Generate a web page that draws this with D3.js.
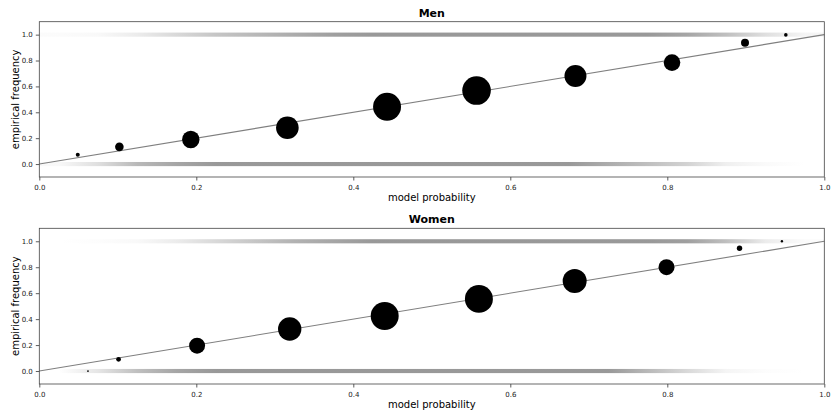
<!DOCTYPE html>
<html>
<head>
<meta charset="utf-8">
<script src="https://cdn.jsdelivr.net/npm/d3@7"></script>
<style>
  body { margin: 0; background: #fff; }
  text { font-family: "DejaVu Sans", sans-serif; }
</style>
</head>
<body>
<svg id="chart" width="831" height="412"></svg>
<script>
// binned calibration points (mean model probability, empirical frequency, n)
const menProb = [0.049, 0.102, 0.193, 0.316, 0.443, 0.557, 0.683, 0.806, 0.899, 0.951];
const menFreq = [0.072, 0.133, 0.190, 0.280, 0.442, 0.568, 0.681, 0.784, 0.938, 0.998];
const menCount = [40, 185, 760, 1280, 1960, 2050, 1210, 690, 160, 32];

const womenProb = [0.062, 0.101, 0.201, 0.319, 0.440, 0.560, 0.682, 0.799, 0.892, 0.946];
const womenFreq = [0.000, 0.090, 0.195, 0.324, 0.424, 0.556, 0.694, 0.800, 0.946, 1.000];
const womenCount = [8, 58, 640, 1370, 1960, 1960, 1440, 640, 73, 14];

// density of raw outcomes along x (bins of 0.05), at y = 1 and y = 0
const binStarts = d3.range(0, 1, 0.05);
const menPos = [0.03, 0.05, 0.15, 0.3, 0.45, 0.55, 0.65, 0.75, 0.8, 0.8, 0.8, 0.8, 0.8, 0.8, 0.8, 0.8, 0.7, 0.5, 0.25, 0.08];
const menNeg = [0.05, 0.25, 0.55, 0.7, 0.8, 0.8, 0.8, 0.8, 0.8, 0.8, 0.8, 0.8, 0.8, 0.8, 0.65, 0.5, 0.35, 0.12, 0.04, 0];
const womenPos = [0, 0.02, 0.05, 0.15, 0.3, 0.45, 0.6, 0.7, 0.8, 0.8, 0.8, 0.8, 0.8, 0.8, 0.8, 0.8, 0.75, 0.5, 0.15, 0.03];
const womenNeg = [0, 0.2, 0.5, 0.7, 0.8, 0.8, 0.8, 0.8, 0.8, 0.8, 0.8, 0.8, 0.8, 0.8, 0.8, 0.55, 0.3, 0.08, 0.02, 0];

const xTicks = [0, 0.2, 0.4, 0.6, 0.8, 1.0];
const yTicks = [0, 0.2, 0.4, 0.6, 0.8, 1.0];

const svg = d3.select('#chart');
const defs = svg.append('defs');
const left = 39.3, right = 824.3;
const x = d3.scaleLinear().domain([0, 1]).range([left, right]);
const r = d3.scaleSqrt().domain([0, 2050]).range([0, 14.3]);

function panel(id, title, top, bottom, prob, freq, count, pos, neg) {
  const y = d3.scaleLinear().domain([-0.1, 1.1]).range([bottom, top]);
  const g = svg.append('g');

  // jittered raw outcomes, drawn as density bands
  const bands = [{v: 1, d: pos, k: 'pos'}, {v: 0, d: neg, k: 'neg'}];
  bands.forEach(b => {
    const gid = `${id}-${b.k}`;
    const grad = defs.append('linearGradient')
      .attr('id', gid)
      .attr('gradientUnits', 'userSpaceOnUse')
      .attr('x1', x(0)).attr('x2', x(1)).attr('y1', 0).attr('y2', 0);
    grad.selectAll('stop')
      .data(binStarts.map((s, i) => ({s: s + 0.025, d: b.d[i]})))
      .enter()
      .append('stop')
      .attr('offset', d => d.s)
      .attr('stop-color', '#7f7f7f')
      .attr('stop-opacity', d => d.d);
    g.append('rect')
      .attr('x', x(0))
      .attr('width', x(1) - x(0))
      .attr('y', y(b.v + 0.016))
      .attr('height', y(b.v - 0.016) - y(b.v + 0.016))
      .attr('fill', `url(#${gid})`);
  });

  // perfect calibration line
  g.append('line')
    .attr('x1', x(0)).attr('y1', y(0))
    .attr('x2', x(1)).attr('y2', y(1))
    .attr('stroke', '#7f7f7f')
    .attr('stroke-width', 1.1);

  g.selectAll('circle')
    .data(prob.map((p, i) => ({p, f: freq[i], n: count[i]})))
    .enter()
    .append('circle')
    .attr('cx', d => x(d.p))
    .attr('cy', d => y(d.f))
    .attr('r', d => r(d.n))
    .attr('fill', '#000');

  // axes
  const xAxis = d3.axisBottom(x).tickValues(xTicks).tickFormat(d3.format('.1f')).tickSize(3.5);
  const yAxis = d3.axisLeft(y).tickValues(yTicks).tickFormat(d3.format('.1f')).tickSize(3.5);
  const gx = g.append('g').attr('transform', `translate(0,${bottom})`).call(xAxis);
  const gy = g.append('g').attr('transform', `translate(${left},0)`).call(yAxis);
  [gx, gy].forEach(a => {
    a.select('.domain').remove();
    a.selectAll('line').attr('stroke', '#333').attr('stroke-width', 0.8);
    a.selectAll('text').attr('font-size', 7).attr('fill', '#222')
      .attr('font-family', '"DejaVu Sans", sans-serif');
  });
  gx.selectAll('text').attr('dy', '0.9em');

  g.append('rect')
    .attr('x', left).attr('y', top)
    .attr('width', right - left).attr('height', bottom - top)
    .attr('fill', 'none').attr('stroke', '#444').attr('stroke-width', 0.8);

  g.append('text')
    .attr('x', (left + right) / 2).attr('y', top - 5)
    .attr('text-anchor', 'middle')
    .attr('font-size', 11).attr('font-weight', 'bold')
    .text(title);

  g.append('text')
    .attr('x', (left + right) / 2).attr('y', bottom + 24)
    .attr('text-anchor', 'middle')
    .attr('font-size', 10)
    .text('model probability');

  g.append('text')
    .attr('transform', `translate(15,${(top + bottom) / 2}) rotate(-90)`)
    .attr('text-anchor', 'middle')
    .attr('dy', '0.35em')
    .attr('font-size', 10)
    .text('empirical frequency');
}

panel('men', 'Men', 21.7, 177, menProb, menFreq, menCount, menPos, menNeg);
panel('women', 'Women', 228.3, 384, womenProb, womenFreq, womenCount, womenPos, womenNeg);
</script>
</body>
</html>
